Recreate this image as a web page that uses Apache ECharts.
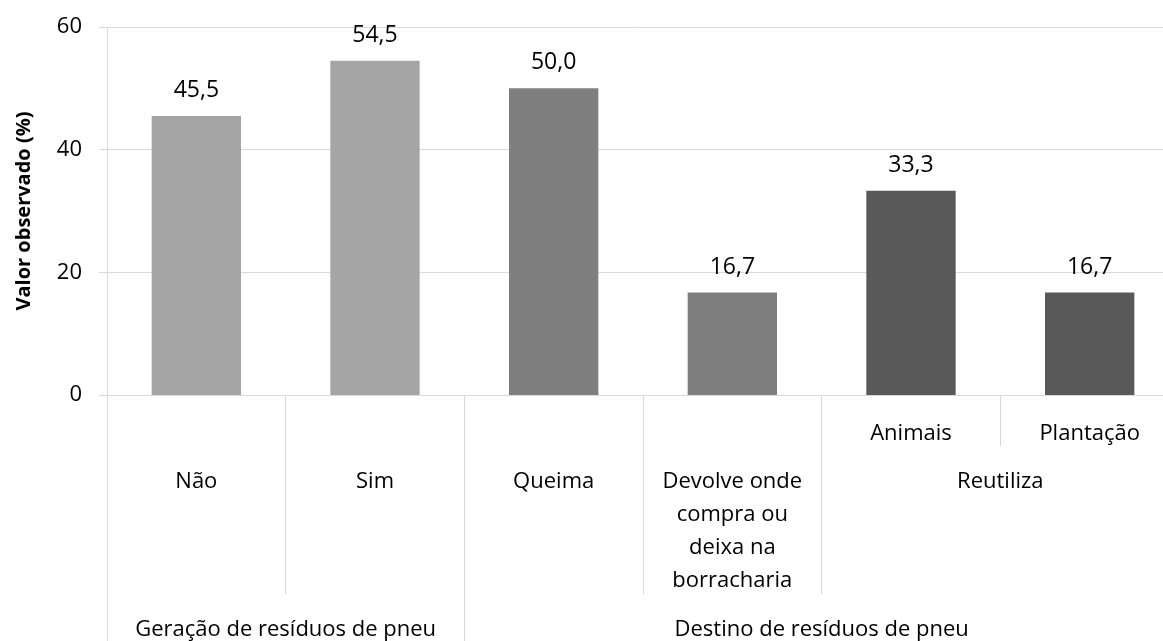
<!DOCTYPE html>
<html>
<head>
<meta charset="UTF-8">
<title>Resíduos de pneu</title>
<script type="text/javascript" src="https://cdn.jsdelivr.net/npm/echarts@6/dist/echarts.min.js"></script>
<style>
  html, body { margin: 0; padding: 0; background: #fff; }
</style>
</head>
<body>
<div id="mychar" style="width:1163px;height:641px;"></div>

<script type="text/javascript">

// dados
var categorias = ['Não', 'Sim', 'Queima', 'Devolve onde compra ou deixa na borracharia', 'Animais', 'Plantação'];
var valores = [45.5, 54.5, 50.0, 16.7, 33.3, 16.7];

// rotulos do eixo x em tres niveis
var nivel1 = ['', '', '', '', 'Animais', 'Plantação'];
var nivel2Pos = [0.5, 1.5, 2.5, 3.5, 5];
var nivel2 = ['Não', 'Sim', 'Queima', 'Devolve onde\ncompra ou\ndeixa na\nborracharia', 'Reutiliza'];
var nivel3Pos = [1, 4];
var nivel3 = ['Geração de resíduos de pneu', 'Destino de resíduos de pneu'];

var yTicks = [0, 20, 40, 60];

var cores = ['#a5a5a5', '#a5a5a5', '#7f7f7f', '#7f7f7f', '#595959', '#595959'];
var fonte = 'Open Sans';
var cinza = '#d9d9d9';
var tam = 22;

var mychart = echarts.init(document.getElementById('mychar'));

function rotuloPorPos(pos, textos) {
  return function (v) {
    for (var i = 0; i < pos.length; i++) {
      if (Math.abs(pos[i] - v) < 1e-6) return textos[i];
    }
    return '';
  };
}

var option = {
  animation: false,
  textStyle: { fontFamily: fonte },
  grid: { left: 107, top: 27, right: -16, bottom: 246, outerBoundsMode: 'none', containLabel: false },
  xAxis: [
    {
      type: 'category',
      data: categorias,
      position: 'bottom',
      axisLine: { lineStyle: { color: cinza, width: 1 } },
      axisTick: { show: true, interval: 0, length: 51, lineStyle: { color: cinza } },
      axisLabel: {
        interval: 0, margin: 22, color: '#000', fontSize: tam, lineHeight: 33, fontFamily: fonte,
        formatter: function (v, i) { return nivel1[i]; }
      }
    },
    {
      type: 'value', min: 0, max: 6, position: 'bottom',
      axisLine: { show: false },
      splitLine: { show: false },
      axisTick: { show: true, customValues: [0, 1, 2, 3, 4], length: 199, lineStyle: { color: cinza } },
      axisLabel: {
        customValues: nivel2Pos, margin: 70, color: '#000', fontSize: tam, fontFamily: fonte,
        lineHeight: 33, align: 'center',
        formatter: rotuloPorPos(nivel2Pos, nivel2)
      }
    },
    {
      type: 'value', min: 0, max: 6, position: 'bottom',
      axisLine: { show: false },
      splitLine: { show: false },
      axisTick: { show: true, customValues: [0, 2], length: 250, lineStyle: { color: cinza } },
      axisLabel: {
        customValues: nivel3Pos, margin: 218, color: '#000', fontSize: tam, lineHeight: 33, fontFamily: fonte,
        formatter: rotuloPorPos(nivel3Pos, nivel3)
      }
    }
  ],
  yAxis: {
    type: 'value',
    min: 0, max: 60, interval: 20,
    name: 'Valor observado (%)',
    nameLocation: 'middle',
    nameGap: 73,
    nameTextStyle: { fontSize: 20, fontWeight: 'bold', color: '#000', fontFamily: fonte },
    axisLine: { show: true, lineStyle: { color: cinza } },
    axisTick: { show: true, length: 8, lineStyle: { color: cinza } },
    axisLabel: {
      margin: 25, color: '#000', fontSize: 22, fontFamily: fonte,
      customValues: yTicks
    },
    splitLine: { lineStyle: { color: cinza, width: 1 } }
  },
  series: [{
    name: 'Valor observado',
    type: 'bar',
    data: valores,
    barWidth: '50%',
    itemStyle: {
      color: function (p) { return cores[p.dataIndex]; }
    },
    label: {
      show: true,
      position: 'top',
      distance: 14,
      color: '#000',
      fontSize: 23,
      fontFamily: fonte,
      formatter: function (p) { return p.value.toFixed(1).replace('.', ','); }
    }
  }]
};

mychart.setOption(option);
</script>
</body>
</html>
